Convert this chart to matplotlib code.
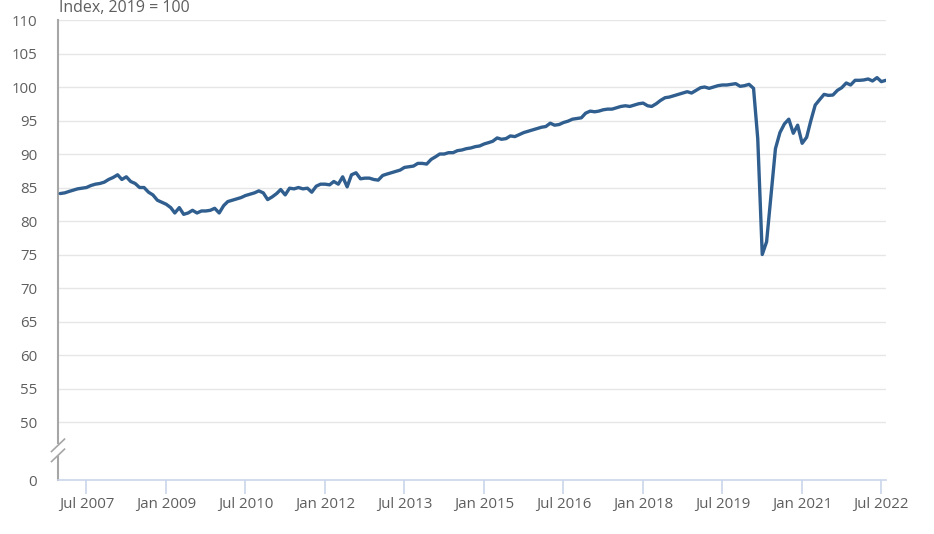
import numpy as np
import pandas as pd
import matplotlib.pyplot as plt
import matplotlib.transforms as mtransforms

# Monthly index values (2019 = 100), Jan 2007 - Aug 2022, one list per year
y2007 = [84.1, 84.2, 84.4, 84.6, 84.8, 84.9, 85.0, 85.3, 85.5, 85.6, 85.8, 86.2]
y2008 = [86.5, 86.9, 86.2, 86.6, 85.9, 85.6, 85.0, 85.0, 84.3, 83.9, 83.1, 82.8]
y2009 = [82.5, 82.0, 81.2, 82.0, 81.0, 81.2, 81.6, 81.2, 81.5, 81.5, 81.6, 81.9]
y2010 = [81.2, 82.3, 82.9, 83.1, 83.3, 83.5, 83.8, 84.0, 84.2, 84.5, 84.2, 83.2]
y2011 = [83.6, 84.1, 84.7, 83.9, 84.9, 84.8, 85.0, 84.8, 84.9, 84.3, 85.2, 85.5]
y2012 = [85.5, 85.4, 85.9, 85.5, 86.6, 85.1, 86.9, 87.2, 86.3, 86.4, 86.4, 86.2]
y2013 = [86.1, 86.8, 87.0, 87.2, 87.4, 87.6, 88.0, 88.1, 88.2, 88.6, 88.6, 88.5]
y2014 = [89.2, 89.6, 90.0, 90.0, 90.2, 90.2, 90.5, 90.6, 90.8, 90.9, 91.1, 91.2]
y2015 = [91.5, 91.7, 91.9, 92.4, 92.2, 92.3, 92.7, 92.6, 92.9, 93.2, 93.4, 93.6]
y2016 = [93.8, 94.0, 94.1, 94.6, 94.3, 94.4, 94.7, 94.9, 95.2, 95.3, 95.4, 96.1]
y2017 = [96.4, 96.3, 96.4, 96.6, 96.7, 96.7, 96.9, 97.1, 97.2, 97.1, 97.3, 97.5]
y2018 = [97.6, 97.2, 97.1, 97.5, 98.0, 98.4, 98.5, 98.7, 98.9, 99.1, 99.3, 99.1]
y2019 = [99.5, 99.9, 100.0, 99.8, 100.0, 100.2, 100.3, 100.3, 100.4, 100.5, 100.1, 100.2]
y2020 = [100.4, 99.8, 92.3, 75.0, 76.9, 84.0, 90.8, 93.2, 94.5, 95.2, 93.1, 94.3]
y2021 = [91.6, 92.5, 94.9, 97.3, 98.1, 98.9, 98.75, 98.8, 99.5, 99.9, 100.6, 100.3]
y2022 = [101.0, 101.0, 101.05, 101.2, 100.9, 101.4, 100.8, 101.0]

values = (y2007 + y2008 + y2009 + y2010 + y2011 + y2012 + y2013 + y2014
          + y2015 + y2016 + y2017 + y2018 + y2019 + y2020 + y2021 + y2022)
dates = pd.date_range("2007-01-01", periods=len(values), freq="MS")

tick_dates = pd.date_range("2007-07-01", "2022-07-01", freq="18MS")
y_ticks = list(range(50, 111, 5))

# the axis is broken: 0 is drawn just below 50
zero_pos = 41.35

plt.rcParams["font.family"] = ["Open Sans", "DejaVu Sans"]
text_col = "#5e5e5e"

fig = plt.figure(figsize=(9.34, 5.34), dpi=100)
ax = fig.add_axes([58 / 934, 1 - 480 / 534, 828 / 934, 460 / 534])

for v in y_ticks:
    ax.axhline(v, color="#e6e6e6", lw=1, zorder=0)

ax.plot(dates, values, color="#2f5e8f", lw=2.4, solid_joinstyle="round",
        solid_capstyle="round", zorder=3)

ax.set_ylim(zero_pos, 110)
ax.set_yticks([zero_pos] + y_ticks)
ax.set_yticklabels(["0"] + [str(v) for v in y_ticks])
ax.set_xlim(pd.Timestamp("2006-12-17"), pd.Timestamp("2022-08-02"))
ax.set_xticks(tick_dates)
ax.set_xticklabels([d.strftime("%b %Y") for d in tick_dates])

ax.tick_params(axis="y", length=0, pad=15, labelsize=10.8, labelcolor=text_col)
ax.tick_params(axis="x", length=10, width=1.2, color="#c9d5ea", pad=2,
               labelsize=10.8, labelcolor=text_col)
for lab in ax.get_yticklabels():
    lab.set_horizontalalignment("right")

for s in ["top", "right", "left"]:
    ax.spines[s].set_visible(False)
ax.spines["bottom"].set_color("#c9d5ea")
ax.spines["bottom"].set_linewidth(1.2)

# left axis line with a break
tr = mtransforms.blended_transform_factory(ax.transAxes, ax.transData)
ax.plot([0, 0], [46.9, 110], color="#a6a6a6", lw=1.5, transform=tr, clip_on=False)
ax.plot([0, 0], [zero_pos, 44.8], color="#a6a6a6", lw=1.5, transform=tr, clip_on=False)
dx = 6.5 / 828
for y0, y1 in [(45.6, 47.45), (44.1, 45.95)]:
    ax.plot([-dx, dx], [y0, y1], color="#a6a6a6", lw=1.2, transform=tr, clip_on=False)

fig.text(59 / 934, 1 - 12 / 534, "Index, 2019 = 100", fontsize=11.5,
         color=text_col, va="baseline", ha="left")

fig.savefig("out.png", dpi=100)
